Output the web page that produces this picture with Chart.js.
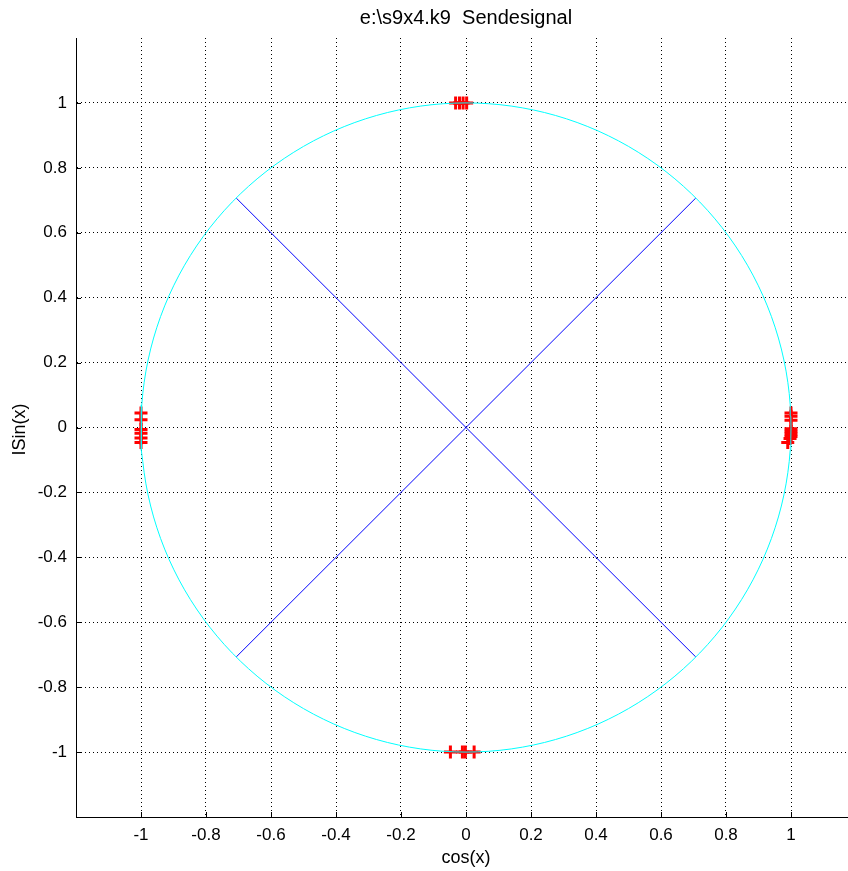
<!DOCTYPE html>
<html>
<head>
<meta charset="utf-8">
<script src="https://cdn.jsdelivr.net/npm/chart.js@4/dist/chart.umd.min.js"></script>
<style>
  html, body { margin: 0; padding: 0; background: #fff; overflow: hidden; }
  canvas { display: block; }
</style>
</head>
<body>
<canvas id="canvas" width="880" height="871"></canvas>
<script>
// received symbols (red crosses), one cluster per constellation point
var symX = [-0.032, -0.020, -0.009, 0.002,
            -0.048, -0.011, -0.002, 0.025,
            -1.0, -1.0, -1.0, -1.0, -1.0, -1.0,
            1.0, 1.0, 1.0, 1.0, 1.0, 1.0, 1.0, 0.997, 0.99]
var symY = [1.0, 1.0, 1.0, 1.0,
            -1.0, -1.0, -1.0, -1.0,
            0.045, 0.024, -0.006, -0.018, -0.032, -0.046,
            0.045, 0.035, 0.022, -0.004, -0.012, -0.020, -0.028, -0.034, -0.046]

// decision lines (blue diagonals)
var diagAX = [-0.7071, 0.7071]
var diagAY = [0.7071, -0.7071]
var diagBX = [-0.7071, 0.7071]
var diagBY = [-0.7071, 0.7071]

// unit circle, sampled every 2 degrees
var circleRadius = 1
var circleDeg = []
for (var d = 0; d <= 360; d += 2) circleDeg.push(d)

// axis ticks
var tickMin = -1.2
var tickMax = 1.2
var tickStep = 0.2
var tickLabelled = [-1, -0.8, -0.6, -0.4, -0.2, 0, 0.2, 0.4, 0.6, 0.8, 1]

var titleText = 'e:\\s9x4.k9  Sendesignal'
var xTitle = 'cos(x)'
var yTitle = 'ISin(x)'

var FONT = '"Liberation Sans", Arial, Helvetica, sans-serif'

function toPoints(xs, ys) {
    var pts = []
    for (var i = 0; i < xs.length; i++) pts.push({ x: xs[i], y: ys[i] })
    return pts
}

var circlePts = circleDeg.map(function (deg) {
    var a = deg * Math.PI / 180
    return { x: circleRadius * Math.cos(a), y: circleRadius * Math.sin(a) }
})

function isLabelled(v) {
    return tickLabelled.some(function (t) { return Math.abs(t - v) < 1e-6 })
}

// title, axis titles and the small inward tick marks
var decor = {
    id: 'decor',
    afterDraw: function (chart) {
        var ctx = chart.ctx
        var area = chart.chartArea
        var xs = chart.scales.x
        var ys = chart.scales.y
        ctx.save()
        ctx.strokeStyle = '#000'
        ctx.lineWidth = 1
        ctx.beginPath()
        tickLabelled.forEach(function (t) {
            var px = Math.round(xs.getPixelForValue(t)) + 0.5
            ctx.moveTo(px, area.bottom)
            ctx.lineTo(px, area.bottom - 5)
            var py = Math.round(ys.getPixelForValue(t)) + 0.5
            ctx.moveTo(area.left, py)
            ctx.lineTo(area.left + 5, py)
        })
        ctx.stroke()

        ctx.fillStyle = '#000'
        ctx.textAlign = 'center'
        ctx.textBaseline = 'middle'
        ctx.font = '20px ' + FONT
        ctx.fillText(titleText, (area.left + area.right) / 2, 18)
        ctx.font = '18px ' + FONT
        ctx.fillText(xTitle, (area.left + area.right) / 2, 858)
        ctx.translate(20, (area.top + area.bottom) / 2 + 2)
        ctx.rotate(-Math.PI / 2)
        ctx.fillText(yTitle, 0, 0)
        ctx.restore()
    }
}

var gridColor = function (c) {
    return isLabelled(c.tick.value) ? '#000' : 'rgba(0,0,0,0)'
}

var axisCommon = {
    type: 'linear',
    min: tickMin,
    max: tickMax,
    grid: { color: gridColor, lineWidth: 1, drawTicks: false },
    border: { display: true, color: '#000', width: 1, dash: [1, 3] },
    ticks: {
        stepSize: tickStep,
        color: '#000',
        font: { family: FONT, size: 17 },
        callback: function (v) {
            if (!isLabelled(v)) return ''
            return String(Math.round(v * 10) / 10)
        }
    }
}

var config = {
    type: 'scatter',
    data: {
        datasets: [
            {
                label: 'circle',
                data: circlePts,
                showLine: true,
                borderColor: '#00ffff',
                borderWidth: 1,
                pointRadius: 0,
                order: 0
            },
            {
                label: 'diag1',
                data: toPoints(diagAX, diagAY),
                showLine: true,
                borderColor: '#0000ff',
                borderWidth: 1,
                pointRadius: 0,
                order: 1
            },
            {
                label: 'diag2',
                data: toPoints(diagBX, diagBY),
                showLine: true,
                borderColor: '#0000ff',
                borderWidth: 1,
                pointRadius: 0,
                order: 1
            },
            {
                label: 'symbols',
                data: toPoints(symX, symY),
                showLine: false,
                pointStyle: 'cross',
                pointRadius: 6.5,
                pointBorderWidth: 3,
                pointBorderColor: '#ff0000',
                pointBackgroundColor: '#ff0000',
                order: 2
            }
        ]
    },
    options: {
        responsive: false,
        animation: false,
        layout: { padding: { top: 38, left: 0, right: 24, bottom: 0 } },
        plugins: { legend: { display: false }, tooltip: { enabled: false }, title: { display: false } },
        scales: {
            x: Object.assign({}, axisCommon, {
                position: 'bottom',
                ticks: Object.assign({}, axisCommon.ticks, { padding: 8, maxRotation: 0, autoSkip: false }),
                afterFit: function (s) { s.height = 54 }
            }),
            y: Object.assign({}, axisCommon, {
                position: 'left',
                ticks: Object.assign({}, axisCommon.ticks, { padding: 9, autoSkip: false }),
                afterFit: function (s) { s.width = 76 }
            })
        }
    },
    plugins: [decor]
}

var myChart = new Chart(document.getElementById('canvas').getContext('2d'), config)
</script>
</body>
</html>
